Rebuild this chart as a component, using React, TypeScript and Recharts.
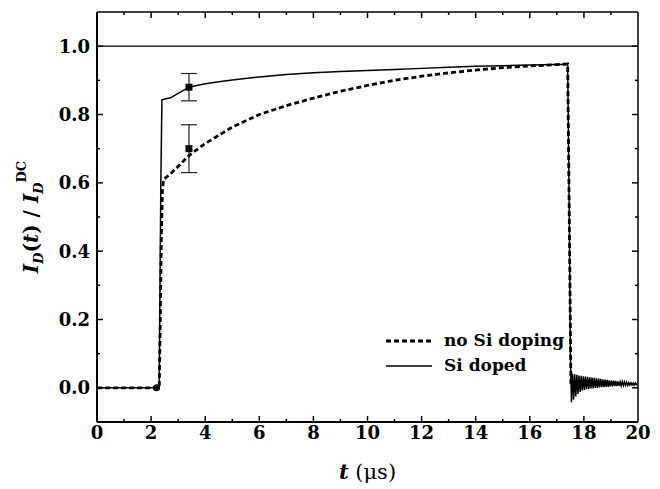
import React from 'react';
import {
  ComposedChart,
  Line,
  Scatter,
  ErrorBar,
  XAxis,
  YAxis,
  ReferenceLine,
  Legend,
} from 'recharts';

// time axis (µs) and normalised drain current I_D(t)/I_D^DC
const noDopingT = [0, 1, 2, 2.2, 2.3, 2.34, 2.38, 2.42, 2.46, 2.7, 3.0, 3.4, 4, 5, 6, 7, 8, 9, 10, 11, 12, 13, 14, 15, 16, 17, 17.4, 17.46, 17.52];
const noDopingV = [0, 0, 0, 0, 0, 0.2, 0.45, 0.58, 0.61, 0.625, 0.648, 0.68, 0.715, 0.763, 0.8, 0.826, 0.848, 0.868, 0.885, 0.9, 0.912, 0.922, 0.93, 0.937, 0.942, 0.946, 0.948, 0.5, 0.01];

const dopedT = [0, 1, 2, 2.2, 2.3, 2.36, 2.4, 2.55, 2.7, 3.0, 3.4, 4, 4.5, 5, 6, 7, 8, 9, 10, 11, 12, 13, 14, 15, 16, 17, 17.4, 17.46, 17.5];
const dopedV = [0, 0, 0, 0, 0, 0.6, 0.843, 0.846, 0.848, 0.862, 0.88, 0.89, 0.896, 0.901, 0.91, 0.917, 0.922, 0.926, 0.929, 0.932, 0.935, 0.938, 0.941, 0.943, 0.945, 0.946, 0.947, 0.5, 0.1];

// ringing after switch-off, sampled every 0.04 µs from 17.54 µs
const ringStart = 17.54;
const ringStep = 0.04;
const ringV = [
  -0.042, 0.042, -0.035, 0.04, -0.025, 0.038, -0.018, 0.036, -0.012, 0.035,
  -0.008, 0.034, -0.006, 0.033, -0.004, 0.032, -0.004, 0.031, -0.002, 0.03,
  -0.002, 0.029, 0.0, 0.028, 0.0, 0.027, 0.001, 0.026, 0.002, 0.025,
  0.002, 0.024, 0.003, 0.023, 0.003, 0.022, 0.004, 0.021, 0.004, 0.021,
  0.005, 0.02, 0.005, 0.019, 0.006, 0.018, 0.006, 0.018, 0.007, 0.017,
  0.007, 0.016, 0.007, 0.015, 0.008, 0.015, 0.008, 0.014, 0.008, 0.014,
  0.009, 0.012,
];

// measured points with error bars
const markT = [3.4, 3.4];
const markV = [0.88, 0.7];
const markErr = [0.04, 0.07];

const xTicks = [0, 1, 2, 3, 4, 5, 6, 7, 8, 9, 10, 11, 12, 13, 14, 15, 16, 17, 18, 19, 20];
const yTicks = [-0.1, 0, 0.1, 0.2, 0.3, 0.4, 0.5, 0.6, 0.7, 0.8, 0.9, 1.0, 1.1];

const legendNames = ['no Si doping', 'Si doped'];

const noDoping = noDopingT.map((t, i) => ({ t, v: noDopingV[i] }));
const doped = [
  ...dopedT.map((t, i) => ({ t, v: dopedV[i] })),
  ...ringV.map((v, i) => ({ t: +(ringStart + i * ringStep).toFixed(2), v })),
];
const marks = markT.map((t, i) => ({ t, v: markV[i], err: markErr[i] }));
const onsetDot = [{ t: 2.2, v: 0 }];

const FONT = '"DejaVu Serif", "Liberation Serif", serif';

const majorX = (v: number) => Math.round(v) % 2 === 0;
const majorY = (v: number) => Math.round(v * 10) % 2 === 0 && v >= 0 && v <= 1.0001;
const edgeX = (v: number) => v <= 0 || v >= 20;

const XTickBottom = (props: any) => {
  const { x, y, payload } = props;
  const major = majorX(payload.value);
  return (
    <g>
      {!edgeX(payload.value) && (
        <line x1={x} y1={y} x2={x} y2={y - (major ? 6 : 3)} stroke="#000" strokeWidth={1.5} />
      )}
      {major && (
        <text x={x} y={y + 17} textAnchor="middle" fontFamily={FONT} fontWeight="bold" fontSize={18} fill="#000">
          {payload.value}
        </text>
      )}
    </g>
  );
};

const XTickTop = (props: any) => {
  const { x, y, payload } = props;
  if (edgeX(payload.value)) return <g />;
  const major = majorX(payload.value);
  return <line x1={x} y1={y} x2={x} y2={y + (major ? 6 : 3)} stroke="#000" strokeWidth={1.5} />;
};

const YTickLeft = (props: any) => {
  const { x, y, payload } = props;
  const v = payload.value;
  if (v < -0.05 || v > 1.05) return <g />;
  const major = majorY(v);
  return (
    <g>
      <line x1={x} y1={y} x2={x + (major ? 6 : 3)} y2={y} stroke="#000" strokeWidth={1.5} />
      {major && (
        <text x={x - 7} y={y + 6.5} textAnchor="end" fontFamily={FONT} fontWeight="bold" fontSize={18} fill="#000">
          {v.toFixed(1)}
        </text>
      )}
    </g>
  );
};

const YTickRight = (props: any) => {
  const { x, y, payload } = props;
  const v = payload.value;
  if (v < -0.05 || v > 1.05) return <g />;
  const major = majorY(v);
  return <line x1={x} y1={y} x2={x - (major ? 6 : 3)} y2={y} stroke="#000" strokeWidth={1.5} />;
};

const YTitle = (props: any) => {
  const { viewBox } = props;
  const cx = 38;
  const cy = viewBox.y + viewBox.height / 2;
  return (
    <text
      x={cx}
      y={cy}
      transform={`rotate(-90, ${cx}, ${cy})`}
      textAnchor="middle"
      fontFamily={FONT}
      fontWeight="bold"
      fontSize={20}
      fill="#000"
    >
      <tspan fontStyle="italic">I</tspan>
      <tspan fontStyle="italic" fontSize={13} dy={5}>D</tspan>
      <tspan dy={-5}>(</tspan>
      <tspan fontStyle="italic">t</tspan>
      <tspan>) / </tspan>
      <tspan fontStyle="italic">I</tspan>
      <tspan fontStyle="italic" fontSize={13} dy={5}>D</tspan>
      <tspan fontSize={13} dy={-17}>DC</tspan>
    </text>
  );
};

const XTitle = (props: any) => {
  const { viewBox } = props;
  const cx = viewBox.x + viewBox.width / 2;
  return (
    <text x={cx} y={479} textAnchor="middle" fontFamily={FONT} fontSize={21} fill="#000">
      <tspan fontStyle="italic" fontWeight="bold">t</tspan>
      <tspan> (μs)</tspan>
    </text>
  );
};

const LegendBox = () => (
  <div style={{ fontFamily: FONT, fontSize: 17, fontWeight: 'bold', color: '#000' }}>
    {legendNames.map((name, i) => (
      <div key={name} style={{ display: 'flex', alignItems: 'center', height: 25 }}>
        <svg width={46} height={10}>
          <line
            x1={0}
            y1={5}
            x2={46}
            y2={5}
            stroke="#000"
            strokeWidth={i === 0 ? 2.8 : 1.5}
            strokeDasharray={i === 0 ? '5 3' : undefined}
          />
        </svg>
        <span style={{ marginLeft: 12, lineHeight: '25px' }}>{name}</span>
      </div>
    ))}
  </div>
);

const SquareMark = (props: any) => {
  const { cx, cy } = props;
  return <rect x={cx - 3.5} y={cy - 3.5} width={7} height={7} fill="#000" />;
};

const OnsetMark = (props: any) => {
  const { cx, cy } = props;
  return <circle cx={cx} cy={cy} r={3.5} fill="#000" />;
};

export default function App() {
  return (
    <div style={{ position: 'absolute', left: 0, top: 0, width: 660, height: 489, background: '#fff' }}>
      <ComposedChart width={660} height={489} margin={{ top: 11, right: 21, left: 0, bottom: 0 }}>
        <XAxis
          dataKey="t"
          type="number"
          domain={[0, 20]}
          ticks={xTicks}
          interval={0}
          allowDataOverflow
          height={67}
          tickSize={0}
          tickMargin={0}
          tickLine={false}
          tick={<XTickBottom />}
          axisLine={{ stroke: '#000', strokeWidth: 2 }}
          label={<XTitle />}
        />
        <XAxis
          xAxisId="top"
          dataKey="t"
          orientation="top"
          type="number"
          domain={[0, 20]}
          ticks={xTicks}
          interval={0}
          allowDataOverflow
          height={1}
          tickSize={0}
          tickMargin={0}
          tickLine={false}
          tick={<XTickTop />}
          axisLine={{ stroke: '#000', strokeWidth: 1.5 }}
        />
        <YAxis
          dataKey="v"
          type="number"
          domain={[-0.1, 1.1]}
          ticks={yTicks}
          interval={0}
          allowDataOverflow
          width={97}
          tickSize={0}
          tickMargin={0}
          tickLine={false}
          tick={<YTickLeft />}
          axisLine={{ stroke: '#000', strokeWidth: 2 }}
          label={<YTitle />}
        />
        <YAxis
          yAxisId="right"
          dataKey="v"
          orientation="right"
          type="number"
          domain={[-0.1, 1.1]}
          ticks={yTicks}
          interval={0}
          allowDataOverflow
          width={1}
          tickSize={0}
          tickMargin={0}
          tickLine={false}
          tick={<YTickRight />}
          axisLine={{ stroke: '#000', strokeWidth: 1.5 }}
        />
        <ReferenceLine y={1} stroke="#000" strokeWidth={1.2} />
        {/* invisible copy of the data so the mirrored frame axes render */}
        <Line
          xAxisId="top"
          yAxisId="right"
          data={noDoping}
          dataKey="v"
          stroke="none"
          dot={false}
          legendType="none"
          isAnimationActive={false}
        />
        <Line
          data={doped}
          dataKey="v"
          name="Si doped"
          type="linear"
          stroke="#000"
          strokeWidth={1.5}
          dot={false}
          isAnimationActive={false}
        />
        <Line
          data={noDoping}
          dataKey="v"
          name="no Si doping"
          type="linear"
          stroke="#000"
          strokeWidth={2.8}
          strokeDasharray="5 3"
          dot={false}
          isAnimationActive={false}
        />
        <Scatter data={marks} dataKey="v" shape={<SquareMark />} isAnimationActive={false}>
          <ErrorBar dataKey="err" direction="y" width={8} stroke="#222" strokeWidth={1.2} />
        </Scatter>
        <Scatter data={onsetDot} dataKey="v" shape={<OnsetMark />} isAnimationActive={false} />
        <Legend
          layout="vertical"
          align="center"
          verticalAlign="middle"
          content={<LegendBox />}
          wrapperStyle={{ position: 'absolute', left: 386, top: 328, width: 200 }}
        />
      </ComposedChart>
    </div>
  );
}
